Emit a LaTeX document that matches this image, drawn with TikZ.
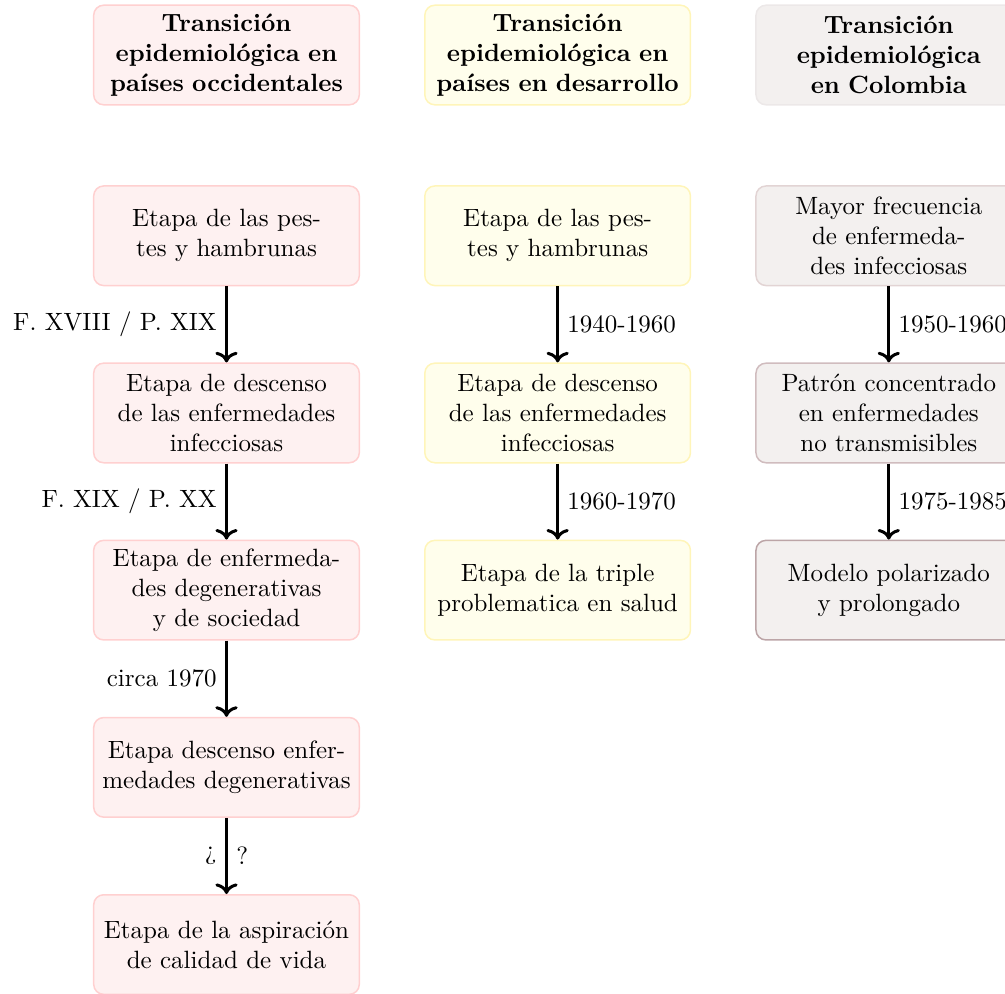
\documentclass[tikz,border=0pt]{standalone}
\usepackage{xcolor}
\usepackage{tikz}
\usetikzlibrary{arrows.meta,positioning}

\definecolor{occfill}{RGB}{254,241,241}
\definecolor{occline}{RGB}{255,208,208}
\definecolor{desfill}{RGB}{255,254,236}
\definecolor{desline}{RGB}{255,245,185}
\definecolor{colfill}{RGB}{243,240,239}
\definecolor{colline0}{RGB}{236,232,232}
\definecolor{colline1}{RGB}{226,212,212}
\definecolor{colline2}{RGB}{208,188,190}
\definecolor{colline3}{RGB}{188,165,167}

\begin{document}
\begin{tikzpicture}[
  node distance=1.07cm and 0.9cm,
  box/.style={rectangle,draw,semithick,rounded corners,align=center,text width=3.5cm,minimum height=1.4cm},
  head/.style={box,font=\bfseries},
  occ/.style={fill=occfill,draw=occline},
  des/.style={fill=desfill,draw=desline},
  col/.style={fill=colfill},
  arr/.style={->,very thick}
]
\useasboundingbox (-90.6pt,22pt) rectangle (311.4pt,-375.2pt);

% cabeceras
\node[head,occ] (occ0) {Transición\\epidemiológica en\\países occidentales};
\node[head,des,right=of occ0] (des0) {Transición\\epidemiológica en\\países en desarrollo};
\node[head,col,draw=colline0,right=of des0] (col0) {Transición\\epidemiológica\\en Colombia};

% paises occidentales
\node[box,occ,below=1.12cm of occ0] (occ1) {Etapa de las pes-\\tes y hambrunas};
\node[box,occ,below=of occ1] (occ2) {Etapa de descenso\\de las enfermedades\\infecciosas};
\node[box,occ,below=of occ2] (occ3) {Etapa de enfermeda-\\des degenerativas\\y de sociedad};
\node[box,occ,below=of occ3] (occ4) {Etapa descenso enfer-\\medades degenerativas};
\node[box,occ,below=of occ4] (occ5) {Etapa de la aspiración\\de calidad de vida};

% paises en desarrollo
\node[box,des,below=1.12cm of des0] (des1) {Etapa de las pes-\\tes y hambrunas};
\node[box,des,below=of des1] (des2) {Etapa de descenso\\de las enfermedades\\infecciosas};
\node[box,des,below=of des2] (des3) {Etapa de la triple\\problematica en salud};

% Colombia
\node[box,col,draw=colline1,below=1.12cm of col0] (col1) {Mayor frecuencia\\de enfermeda-\\des infecciosas};
\node[box,col,draw=colline2,below=of col1] (col2) {Patrón concentrado\\en enfermedades\\no transmisibles};
\node[box,col,draw=colline3,below=of col2] (col3) {Modelo polarizado\\y prolongado};

\draw[arr] (occ1) -- node[left] {F. XVIII / P. XIX} (occ2);
\draw[arr] (occ2) -- node[left] {F. XIX / P. XX} (occ3);
\draw[arr] (occ3) -- node[left] {circa 1970} (occ4);
\draw[arr] (occ4) -- node[left] {¿} node[right] {?} (occ5);

\draw[arr] (des1) -- node[right] {1940-1960} (des2);
\draw[arr] (des2) -- node[right] {1960-1970} (des3);

\draw[arr] (col1) -- node[right] {1950-1960} (col2);
\draw[arr] (col2) -- node[right] {1975-1985} (col3);
\end{tikzpicture}
\end{document}
